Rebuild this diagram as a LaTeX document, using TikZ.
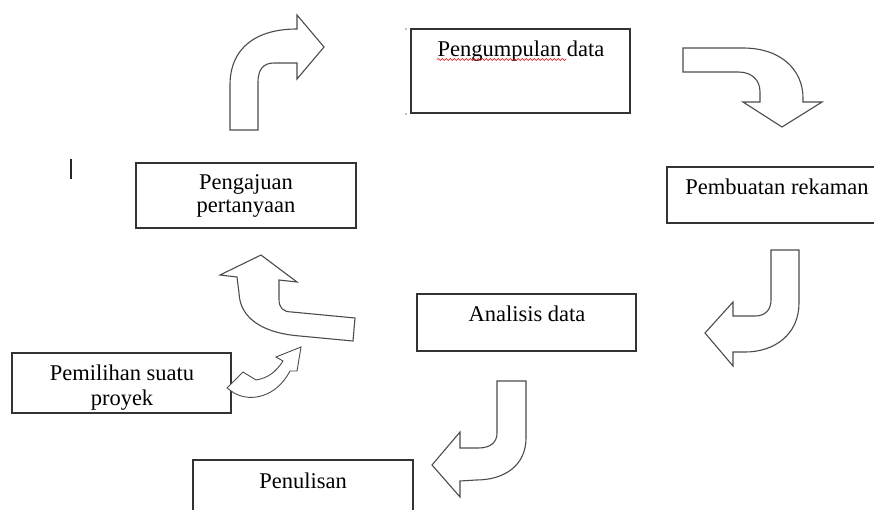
\documentclass[tikz,border=0pt]{standalone}
\usepackage{fontspec}
\setmainfont{Liberation Serif}
\usetikzlibrary{decorations.pathmorphing}
\tikzset{
  box/.style={draw=black!80, line width=1.4pt, fill=white, inner sep=0pt, outer sep=0pt, anchor=north west},
  txt/.style={inner sep=0pt, anchor=base, text=black, font=\fontsize{22.5}{22}\selectfont},
  bentarrow/.style={draw=black!70, line width=1.1pt, fill=white, line join=miter},
}
\begin{document}
\begin{tikzpicture}[x=1pt,y=-1pt]
\useasboundingbox (0,0) rectangle (874,509);
\clip (0,0) rectangle (874,509);
\fill[white] (0,0) rectangle (874,509);

% boxes
\node[box, minimum width=219pt, minimum height=84pt] (b1) at (411,29) {};
\node[box, minimum width=222pt, minimum height=56pt] (b2) at (667,167) {};
\node[box, minimum width=220pt, minimum height=65pt] (b3) at (136,163) {};
\node[box, minimum width=219pt, minimum height=57pt] (b4) at (417,294) {};
\node[box, minimum width=219pt, minimum height=60pt] (b5) at (12,353) {};
\node[box, minimum width=220pt, minimum height=70pt] (b6) at (193,460) {};

% texts
\node[txt] (t1) at (521,56) {Pengumpulan data};
\node[txt] (t2) at (777,194) {Pembuatan rekaman};
\node[txt] (t3a) at (246,189) {Pengajuan};
\node[txt] (t3b) at (246,212) {pertanyaan};
\node[txt] (t4) at (527,321) {Analisis data};
\node[txt] (t5a) at (122,380) {Pemilihan suatu};
\node[txt] (t5b) at (122,405) {proyek};
\node[txt] (t6) at (303,488) {Penulisan};

% spell-check underline
\draw[red!85!black, line width=0.6pt, decorate, decoration={snake, amplitude=0.9pt, segment length=4pt}] (437,59.5) -- (566,59.5);
% small marks
\fill[black!50] (406,29) circle (0.8);
\fill[black!50] (406,114) circle (0.8);
\draw[black!85, line width=1.5pt] (71,159) -- (71,179);

% arrow A: up then right
\draw[bentarrow] (230,130) -- (230,85) .. controls (230,48) and (256,29) .. (297,29)
  -- (297,15) -- (324,47) -- (297,79) -- (297,63) -- (274,63)
  .. controls (263,63) and (258,70) .. (258,82) -- (258,130) -- cycle;

% arrow B: right then down
\draw[bentarrow] (683,48) -- (743,48) .. controls (781,48) and (803,70) .. (803,98)
  -- (803,102) -- (822,102) -- (782,127) -- (743,102) -- (760,102) -- (760,92)
  .. controls (760,80) and (752,72) .. (738,72) -- (683,72) -- cycle;

% arrow C: down then left
\draw[bentarrow] (771,250) -- (799,250) -- (799,303)
  .. controls (799,334) and (775,352) .. (745,352) -- (733,352) -- (733,366)
  -- (705,333) -- (733,302) -- (733,316) -- (755,316)
  .. controls (765,316) and (771,310) .. (771,300) -- cycle;

% arrow D: down then left
\draw[bentarrow] (497,381) -- (526,381) -- (526,438)
  .. controls (526,465) and (505,480) .. (476,480) -- (460,481) -- (460,497)
  -- (432,465) -- (460,432) -- (460,448) -- (478,448)
  .. controls (491,448) and (497,442) .. (497,433) -- cycle;

% arrow E: left then up
\draw[bentarrow] (261,255) -- (297,282) -- (279,280) -- (279,299)
  .. controls (279,308) and (283,312) .. (292,312) -- (355,318) -- (353,341)
  -- (300,336) .. controls (262,333) and (240,318) .. (239,293)
  -- (237,277) -- (220,275) -- cycle;

% arrow F: small wavy arrow
\draw[bentarrow, line width=0.9pt] (301,347) -- (276,357) -- (283,361)
  .. controls (276,372) and (268,378) .. (256,380) -- (243,372) -- (227,388)
  -- (234,393) .. controls (252,403) and (277,396) .. (290,371) -- (297,371) -- cycle;
\end{tikzpicture}
\end{document}
